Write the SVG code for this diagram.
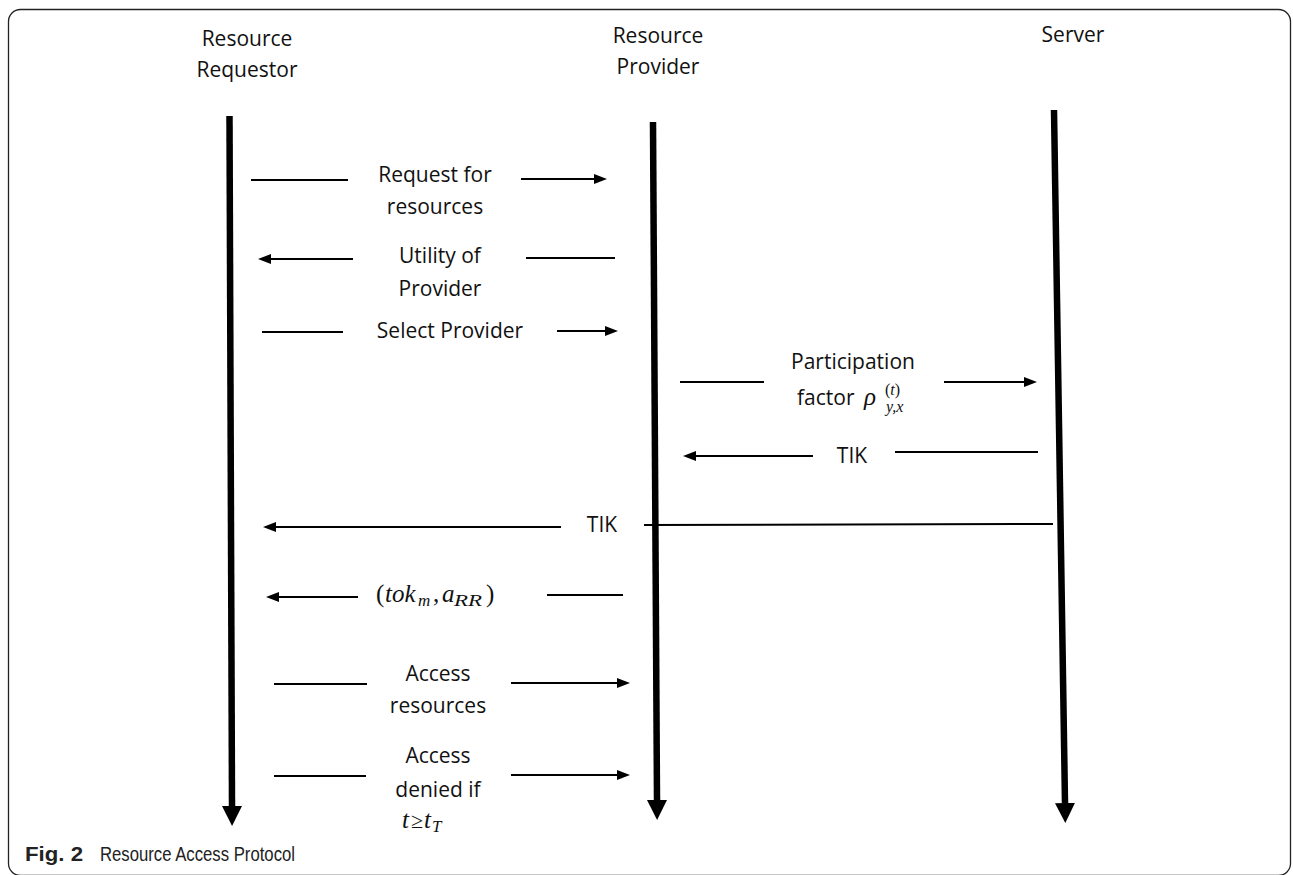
<svg xmlns="http://www.w3.org/2000/svg" width="1293" height="875" viewBox="0 0 1293 875">
<style>
.t{font-family:"Open Sans","Liberation Sans",sans-serif;font-size:21px;fill:#111;text-anchor:middle}
.m{font-family:"Liberation Serif","DejaVu Serif",serif;font-size:25px;fill:#111;font-style:italic}
.mu{font-style:normal}
.ms{font-size:17px}
.life{stroke:#000;stroke-width:6.5;fill:none}
.msg{stroke:#000;stroke-width:2;fill:none}
.cap{font-family:"Liberation Sans","Open Sans",sans-serif;font-size:21px;fill:#222}
</style>
<defs>
<marker id="big" markerUnits="userSpaceOnUse" markerWidth="20" markerHeight="20" viewBox="0 0 20 20" refX="0" refY="10" orient="auto">
<path d="M0,0 L20,10 L0,20 z" fill="#000"/>
</marker>
<marker id="ah" markerUnits="userSpaceOnUse" markerWidth="13" markerHeight="10" viewBox="0 0 13 10" refX="0" refY="5" orient="auto">
<path d="M0,0 L13,5 L0,10 z" fill="#000"/>
</marker>
</defs>
<rect x="8.5" y="9.5" width="1282" height="866" rx="12" ry="12" fill="#fff" stroke="#222" stroke-width="1.3"/>

<g id="requestor">
<text class="t" x="247" y="46">Resource</text>
<text class="t" x="247" y="77">Requestor</text>
<line class="life" x1="229.5" y1="116" x2="232" y2="806" marker-end="url(#big)"/>
</g>
<g id="provider">
<text class="t" x="658" y="43">Resource</text>
<text class="t" x="658" y="74">Provider</text>
<line class="life" x1="653" y1="122" x2="657" y2="800" marker-end="url(#big)"/>
</g>
<g id="server">
<text class="t" x="1073" y="42">Server</text>
<line class="life" x1="1054" y1="110" x2="1065" y2="803" marker-end="url(#big)"/>
</g>

<g id="connectors">
<g id="m1">
<line class="msg" x1="251" y1="180" x2="348" y2="180"/>
<line class="msg" x1="521" y1="179" x2="594" y2="179" marker-end="url(#ah)"/>
</g>
<g id="m2">
<line class="msg" x1="353" y1="259" x2="271" y2="259" marker-end="url(#ah)"/>
<line class="msg" x1="526" y1="258" x2="615" y2="258"/>
</g>
<g id="m3">
<line class="msg" x1="262" y1="332" x2="343" y2="332"/>
<line class="msg" x1="557" y1="331" x2="605" y2="331" marker-end="url(#ah)"/>
</g>
<g id="m4">
<line class="msg" x1="680" y1="382" x2="764" y2="382"/>
<line class="msg" x1="944" y1="382" x2="1024" y2="382" marker-end="url(#ah)"/>
</g>
<g id="m5">
<line class="msg" x1="813" y1="456" x2="696" y2="456" marker-end="url(#ah)"/>
<line class="msg" x1="895" y1="452" x2="1038" y2="452"/>
</g>
<g id="m6">
<line class="msg" x1="561" y1="527" x2="276" y2="527" marker-end="url(#ah)"/>
<line class="msg" x1="644" y1="525" x2="1053" y2="524"/>
</g>
<g id="m7">
<line class="msg" x1="358" y1="597" x2="279" y2="597" marker-end="url(#ah)"/>
<line class="msg" x1="547" y1="595" x2="623" y2="595"/>
</g>
<g id="m8">
<line class="msg" x1="274" y1="684" x2="367" y2="684"/>
<line class="msg" x1="511" y1="683" x2="617" y2="683" marker-end="url(#ah)"/>
</g>
<g id="m9">
<line class="msg" x1="274" y1="776" x2="366" y2="776"/>
<line class="msg" x1="511" y1="775" x2="617" y2="775" marker-end="url(#ah)"/>
</g>
</g>

<g id="labels">
<text class="t" x="435" y="182">Request for</text>
<text class="t" x="435" y="214">resources</text>
<text class="t" x="440" y="263">Utility of</text>
<text class="t" x="440" y="296">Provider</text>
<text class="t" x="450" y="338">Select Provider</text>
<text class="t" x="853" y="369">Participation</text>
<text class="t" x="797" y="405" style="text-anchor:start">factor</text>
<text class="m" x="864" y="405">ρ</text>
<text class="m" style="font-size:16px" x="885" y="395"><tspan class="mu">(</tspan>t<tspan class="mu">)</tspan><tspan x="886" dy="17">y,x</tspan></text>
<text class="t" x="852" y="463">TIK</text>
<text class="t" x="602" y="532">TIK</text>
<text class="m" y="602"><tspan class="mu" x="376">(</tspan><tspan x="385">tok</tspan><tspan class="ms" x="418" dy="4">m</tspan><tspan class="mu" x="433" dy="-4">,</tspan><tspan x="442">a</tspan><tspan class="ms" x="454" dy="4" textLength="28" lengthAdjust="spacingAndGlyphs">RR</tspan><tspan class="mu" x="486" dy="-4">)</tspan></text>
<text class="t" x="438" y="681">Access</text>
<text class="t" x="438" y="713">resources</text>
<text class="t" x="438" y="763">Access</text>
<text class="t" x="438" y="797">denied if</text>
<text class="m" y="828"><tspan x="402">t</tspan><tspan class="mu" x="411" style="font-size:22px">≥</tspan><tspan x="424">t</tspan><tspan class="ms" x="432" dy="4">T</tspan></text>
</g>

<g id="caption">
<text class="cap" x="25" y="861" font-weight="bold" textLength="58" lengthAdjust="spacingAndGlyphs">Fig. 2</text>
<text class="cap" x="100" y="861" textLength="195" lengthAdjust="spacingAndGlyphs">Resource Access Protocol</text>
</g>
</svg>
